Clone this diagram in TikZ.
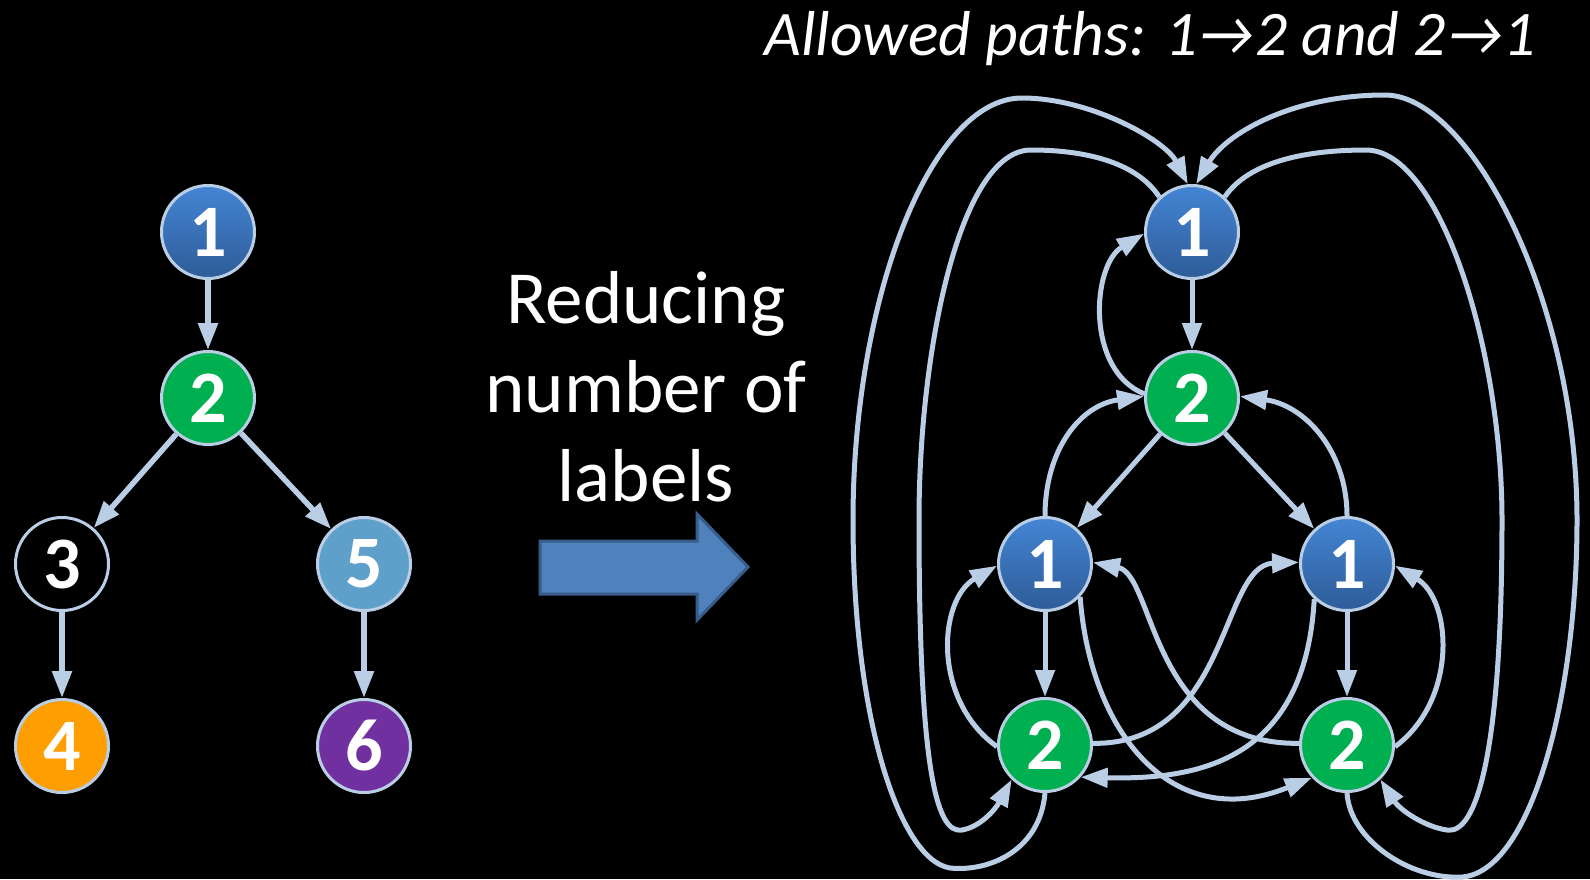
\documentclass[tikz,border=0pt]{standalone}
\usepackage{fontspec}
\setmainfont{Carlito}
\usetikzlibrary{arrows.meta, positioning}
\definecolor{edgeblue}{RGB}{185,205,229}
\definecolor{oneTop}{RGB}{68,133,212}
\definecolor{oneBot}{RGB}{46,92,152}
\definecolor{twoGreen}{RGB}{0,176,80}
\definecolor{fiveBlue}{RGB}{95,160,203}
\definecolor{fourOrange}{RGB}{255,158,0}
\definecolor{sixPurple}{RGB}{112,48,160}
\definecolor{bigFill}{RGB}{79,129,189}
\definecolor{bigLine}{RGB}{56,93,138}
\tikzstyle{vertex} = [circle, minimum size=93pt, inner sep=0pt, line width=3pt, draw=edgeblue, text=white, font=\fontsize{74}{74}\selectfont\bfseries]
\tikzstyle{one} = [vertex, top color=oneTop, bottom color=oneBot]
\tikzstyle{two} = [vertex, fill=twoGreen]
\tikzstyle{arrow} = [line width=5.5pt, draw=edgeblue, -{Triangle[length=27pt,width=19pt]}]
\tikzstyle{link} = [line width=5pt, draw=edgeblue, -{Triangle[length=27pt,width=19pt]}]

\begin{document}
\begin{tikzpicture}[x=1pt, y=1pt, node distance=166pt]
\fill[black] (0,0) rectangle (1590,-879);
\useasboundingbox (0,0) rectangle (1590,-879);

% Left tree
\node (l1) [one] at (208,-232) {1};
\node (l2) [two, below of=l1] {2};
\node (l3) [vertex, fill=black, below of=l2, xshift=-146pt] {3};
\node (l5) [vertex, fill=fiveBlue, below of=l2, xshift=156pt] {5};
\node (l4) [vertex, fill=fourOrange, below of=l3, yshift=-16pt] {4};
\node (l6) [vertex, fill=sixPurple, below of=l5, yshift=-16pt] {6};

\draw [arrow] (l1) -- (l2);
\draw [arrow] (l2) -- (l3);
\draw [arrow] (l2) -- (l5);
\draw [arrow] (l3) -- (l4);
\draw [arrow] (l5) -- (l6);

% Middle text and big arrow
\node (reduce) [text=white, align=center, font=\fontsize{75}{89}\selectfont] at (646,-387) {Reducing\\number of\\labels};
\draw [fill=bigFill, draw=bigLine, line width=3pt, line join=miter]
  (540,-541) -- (697,-541) -- (697,-514) -- (748,-567) -- (697,-620) -- (697,-594) -- (540,-594) -- cycle;

% Title
\node (title) [text=white, anchor=base west, font=\fontsize{63.5}{63.5}\selectfont\itshape] at (761,-55) {Allowed paths: 1→2 and 2→1};

% Right graph
\node (t1) [one] at (1192,-232) {1};
\node (t2) [two, below of=t1] {2};
\node (m1) [one, below of=t2, xshift=-147pt] {1};
\node (m2) [one, below of=t2, xshift=155pt] {1};
\node (b1) [two, below of=m1, yshift=-15pt] {2};
\node (b2) [two, below of=m2, yshift=-15pt] {2};

% Straight links
\draw [link] (t1) -- (t2);
\draw [link] (t2) -- (m1);
\draw [link] (t2) -- (m2);
\draw [link] (m1) -- (b1);
\draw [link] (m2) -- (b2);

% Short bends
\draw [link] (t2.175) .. controls (1085,-370) and (1092,-265) .. (t1.182);
\draw [link] (m1.north) .. controls (1045,-450) and (1080,-405) .. (t2.178);
\draw [link] (m2.north) .. controls (1347,-450) and (1304,-405) .. (t2.2);
\draw [link] (b1.182) .. controls (932,-700) and (938,-600) .. (m1.182);
\draw [link] (b2.358) .. controls (1458,-700) and (1452,-600) .. (m2.358);

% Crossing links
\draw [link] (b1.2) .. controls (1230,-745) and (1220,-565) .. (m2.178);
\draw [link] (b2.178) .. controls (1150,-745) and (1155,-575) .. (m1.2);
\draw [link] (m2.227) .. controls (1305,-760) and (1200,-780) .. (b1.318);
\draw [link] (m1.317) .. controls (1090,-730) and (1170,-835) .. (b2.223);

% Loop back to the top
\draw [link] (b1.south) .. controls (1040,-850) and (990,-872) .. (950,-868)
  .. controls (900,-860) and (853,-720) .. (853,-520)
  .. controls (853,-300) and (930,-98) .. (1022,-98)
  .. controls (1090,-98) and (1165,-140) .. (t1.95);
\draw [link] (t1.133) .. controls (1135,-160) and (1080,-150) .. (1031,-150)
  .. controls (960,-150) and (919,-350) .. (919,-520)
  .. controls (919,-760) and (935,-835) .. (962,-830)
  .. controls (980,-827) and (995,-810) .. (b1.226);
\draw [link] (b2.south) .. controls (1350,-840) and (1410,-880) .. (1462,-877)
  .. controls (1530,-872) and (1577,-700) .. (1577,-520)
  .. controls (1577,-300) and (1470,-95) .. (1385,-95)
  .. controls (1290,-95) and (1225,-135) .. (t1.85);
\draw [link] (t1.47) .. controls (1250,-160) and (1310,-150) .. (1366,-150)
  .. controls (1440,-150) and (1502,-350) .. (1502,-520)
  .. controls (1502,-760) and (1475,-835) .. (1447,-830)
  .. controls (1425,-827) and (1400,-810) .. (b2.314);

\end{tikzpicture}
\end{document}
